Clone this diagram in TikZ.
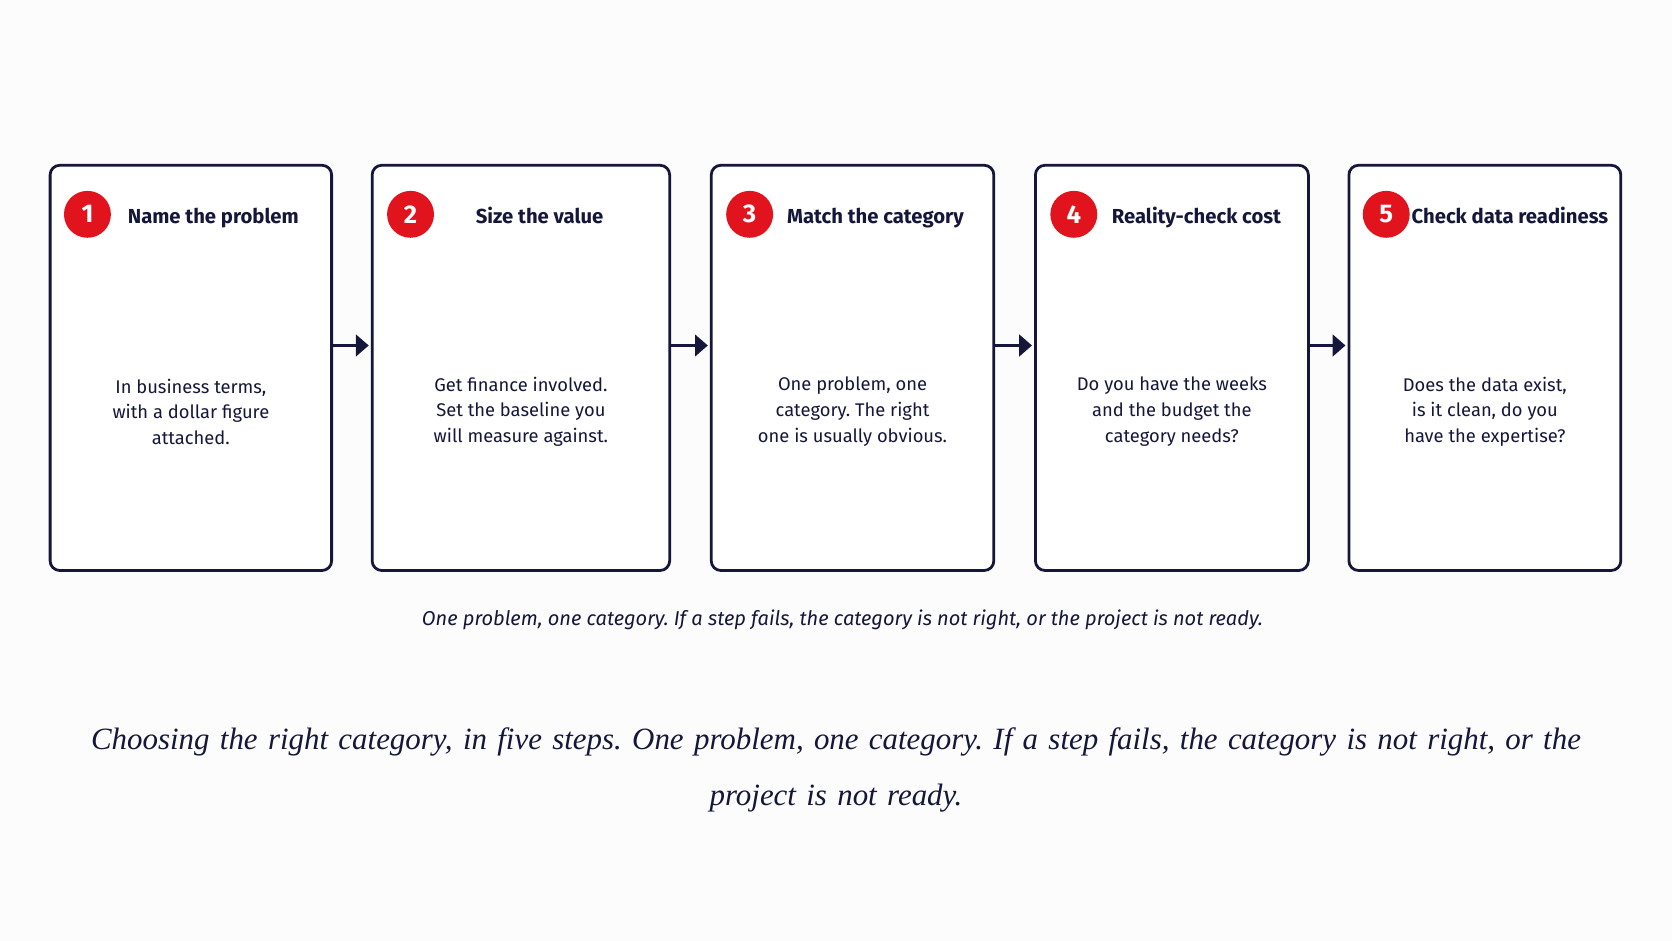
\documentclass[tikz,border=0pt]{standalone}
\usepackage{fontspec}
\setmainfont{Liberation Serif}
\setsansfont{Fira Sans}
\usetikzlibrary{arrows.meta}
\definecolor{navy}{HTML}{15173A}
\definecolor{stepred}{HTML}{E1141E}
\frenchspacing
\begin{document}
\begin{tikzpicture}[x=1pt,y=-1pt,
  card/.style={draw=navy,line width=2.6pt,rounded corners=9pt},
  num/.style={circle,fill=stepred,minimum size=44pt,inner sep=0pt,text=white,font=\sffamily\fontsize{24}{24}\selectfont\bfseries},
  head/.style={text=navy,text height=14pt,text depth=4pt,font=\sffamily\fontsize{19}{20}\selectfont\bfseries},
  body/.style={text=navy,align=center,font=\sffamily\fontsize{17.2}{24}\selectfont},
  link/.style={draw=navy,line width=3.5pt,shorten >=3pt,-{Triangle[length=12pt,width=20pt]}}]
\useasboundingbox (0,0) rectangle (1568,882);
\fill[white!98!gray] (0,0) rectangle (1568,882);
\foreach \i/\l/\r/\cx/\hx/\h/\b in {
 1/47/311/82/200/Name the problem/{In business terms,\\with a dollar figure\\attached.},
 2/349/628/385/506/Size the value/{Get finance involved.\\Set the baseline you\\will measure against.},
 3/667/932/703/821/Match the category/{One problem, one\\category. The right\\one is usually obvious.},
 4/971/1227/1007/1122/Reality-check cost/{Do you have the weeks\\and the budget the\\category needs?},
 5/1265/1520/1300/1416/Check data readiness/{Does the data exist,\\is it clean, do you\\have the expertise?}}{
  \draw[card,fill=white] (\l,155) rectangle (\r,535);
  \node[inner sep=0pt] (box\i) at ({(\l+\r)/2},345) [minimum width={\r-\l},minimum height=380pt] {};
  \node[num] (n\i) at (\cx,201) {\i};
  \node[head] (h\i) at (\hx,205) {\h};
  \node[body] (b\i) at ({(\l+\r)/2},386) {\b};
}
\foreach \a/\b in {1/2,2/3,3/4,4/5}{
  \draw[link] ([yshift=21pt]box\a.east) -- ([yshift=21pt]box\b.west);
}
\node[text=navy,font=\sffamily\itshape\fontsize{18.8}{22}\selectfont] (cap) at (790,581) {One problem, one category. If a step fails, the category is not right, or the project is not ready.};
\node[text=navy,align=center,text width=1460pt,font=\itshape\fontsize{29}{53}\selectfont] (fig) at (784,722) {Choosing the right category, in five steps. One problem, one category. If a step fails, the category is not right, or the project is not ready.};
\end{tikzpicture}
\end{document}
